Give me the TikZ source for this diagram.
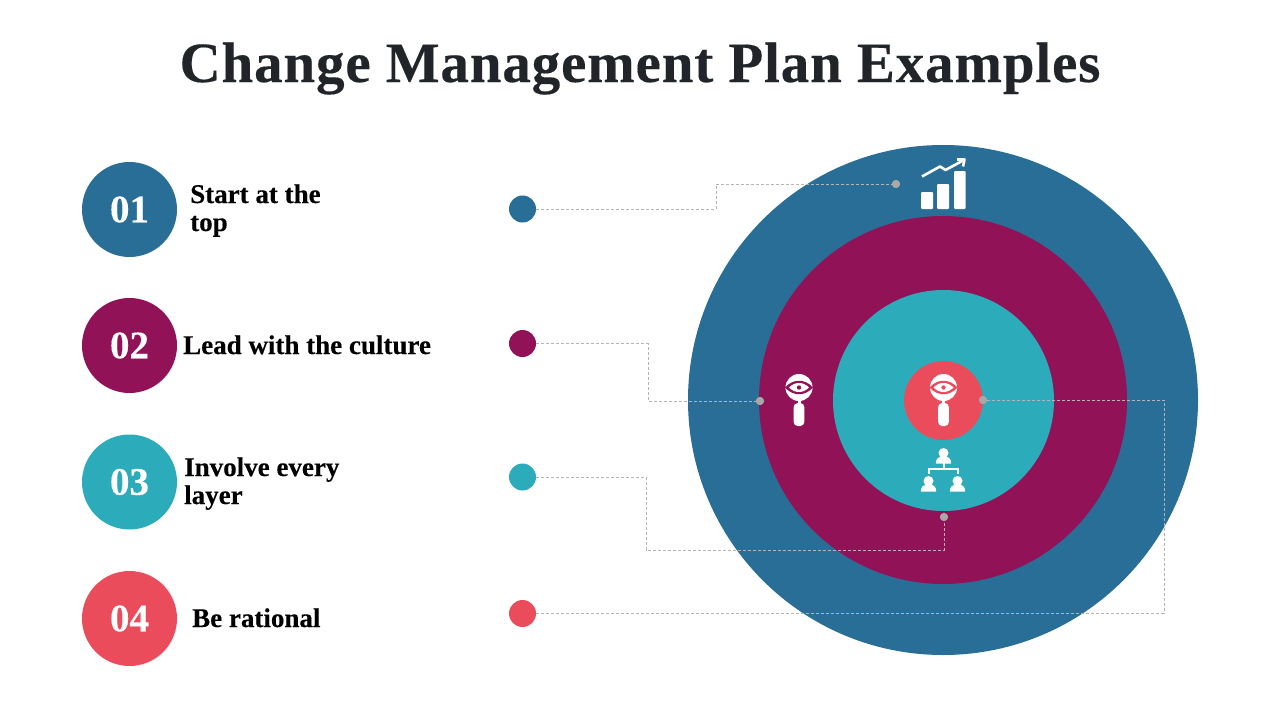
\documentclass[tikz,border=0pt]{standalone}
\usepackage{fontspec}
\setmainfont{Liberation Serif}
\newfontfamily\labelfont[LetterSpace=0,BoldFeatures={FakeBold=0.25}]{Liberation Serif}
\newfontfamily\numfont[LetterSpace=0,BoldFeatures={FakeBold=0.25}]{Liberation Serif}
\newfontfamily\titlefont[LetterSpace=1.5,BoldFeatures={FakeBold=0.25}]{Liberation Serif}
\definecolor{cblue}{HTML}{296E96}
\definecolor{cpurple}{HTML}{921257}
\definecolor{cteal}{HTML}{2CACBA}
\definecolor{cred}{HTML}{EA4C5C}
\definecolor{ctitle}{HTML}{212529}
\definecolor{cgray}{HTML}{A8A8A8}
\definecolor{cline}{HTML}{B4B4B4}
\tikzset{
  disc/.style={circle,draw=none,fill=#1,inner sep=0pt},
  bigdisc/.style={disc=#1,minimum size=95pt,text=white,font=\fontsize{39}{39}\bfseries\numfont},
  smalldisc/.style={disc=#1,minimum size=27pt},
  ring/.style={disc=#1},
  pin/.style={disc=cgray,minimum size=8pt},
  leader/.style={draw=cline,line width=0.8pt,dash pattern=on 3pt off 2pt},
  lbl/.style={anchor=base west,inner sep=0pt,text=black,font=\fontsize{27}{27}\bfseries\labelfont},
}
\newcommand{\lens}[3]{% x y colour
  \begin{scope}[shift={(#1,#2)}]
    \fill[white] (0,0) circle (13.5);
    \fill[#3] (-14,0) .. controls (-6,-9) and (6,-9) .. (14,0) .. controls (6,9) and (-6,9) .. (-14,0) -- cycle;
    \fill[white] (-10,0) .. controls (-4,-6) and (4,-6) .. (10,0) .. controls (4,6) and (-4,6) .. (-10,0) -- cycle;
    \fill[#3] (0,0) circle (2.2);
    \fill[white] (-1.5,13) rectangle (1.5,17);
    \fill[white,rounded corners=4pt] (-5.3,15.5) rectangle (5.3,38.5);
  \end{scope}}
\newcommand{\person}[2]{%
  \begin{scope}[shift={(#1,#2)}]
    \fill[white] (0,0) circle (5);
    \fill[white] (-7.7,10.5) .. controls (-7.7,5.5) and (-5,3.5) .. (0,3.5) .. controls (5,3.5) and (7.7,5.5) .. (7.7,10.5) -- cycle;
  \end{scope}}
\begin{document}
\begin{tikzpicture}[x=1pt,y=-1pt]
\useasboundingbox (0,0) rectangle (1280,720);
\fill[white] (0,0) rectangle (1280,720);
\node[anchor=base,inner sep=0pt,text=ctitle,font=\fontsize{57}{57}\bfseries\titlefont] (title) at (640,82) {Change Management Plan Examples};

\node[bigdisc=cblue] (n1) at (129.5,209.5) {01};
\node[bigdisc=cpurple] (n2) at (129.5,345.5) {02};
\node[bigdisc=cteal] (n3) at (129.5,482) {03};
\node[bigdisc=cred] (n4) at (129.5,618.5) {04};

\node[lbl] (l1a) at (190,203) {Start at the};
\node[lbl] (l1b) at (190,231) {top};
\node[lbl] (l2) at (183,354) {Lead with the culture};
\node[lbl] (l3a) at (184,476) {Involve every};
\node[lbl] (l3b) at (184,504) {layer};
\node[lbl] (l4) at (192,627) {Be rational};

\node[ring=cblue,minimum size=510pt] (r1) at (943,400) {};
\node[ring=cpurple,minimum size=368pt] (r2) at (943,400) {};
\node[ring=cteal,minimum size=221pt] (r3) at (943.5,400.5) {};
\node[ring=cred,minimum size=79pt] (r4) at (943.5,400.5) {};

% chart icon
\fill[white,rounded corners=1pt] (921,192) rectangle (933,209);
\fill[white,rounded corners=1pt] (937,184) rectangle (949,209);
\fill[white,rounded corners=1pt] (954,171) rectangle (965.5,209);
\draw[white,line width=2.6pt,line join=round] (922,176.5) -- (940,166.5) -- (945.5,170) -- (964,160);
\draw[white,line width=2.6pt,line join=round] (957,159.5) -- (964.5,159.5) -- (963,166.5);

\lens{799}{387.5}{cpurple}
\lens{943.5}{387.5}{cred}

% people icon
\person{943.5}{453}
\person{928.5}{481}
\person{957.5}{481}
\draw[white,line width=2pt] (943.5,463) -- (943.5,469) (928.5,473.5) -- (928.5,469) -- (958,469) -- (958,473.5);

% leaders
\node[smalldisc=cblue] (d1) at (522.5,209) {};
\node[smalldisc=cpurple] (d2) at (522.5,343.5) {};
\node[smalldisc=cteal] (d3) at (522.5,477) {};
\node[smalldisc=cred] (d4) at (522.5,613.5) {};
\node[pin] (p1) at (896,184) {};
\node[pin] (p2) at (760,401) {};
\node[pin] (p3) at (944,517) {};
\node[pin] (p4) at (983,400) {};
\coordinate (a1) at (716,209.5);
\coordinate (b1) at (716,184);
\coordinate (a2) at (648,343.5);
\coordinate (b2) at (648,401);
\coordinate (a3) at (646,477);
\coordinate (b3) at (646,550);
\coordinate (c3) at (944,550);
\coordinate (a4) at (1164,613.5);
\coordinate (b4) at (1164,400);
\draw[leader] (d1.east |- a1) -- (a1) -- (b1) -- (p1.center);
\draw[leader] (d2.east) -- (a2) -- (b2) -- (p2.center);
\draw[leader] (d3.east) -- (a3) -- (b3) -- (c3) -- (p3.center);
\draw[leader] (d4.east) -- (a4) -- (b4) -- (p4.center);
\node[pin] at (p1) {};
\node[pin] at (p2) {};
\node[pin] at (p3) {};
\node[pin] at (p4) {};
\end{tikzpicture}
\end{document}
